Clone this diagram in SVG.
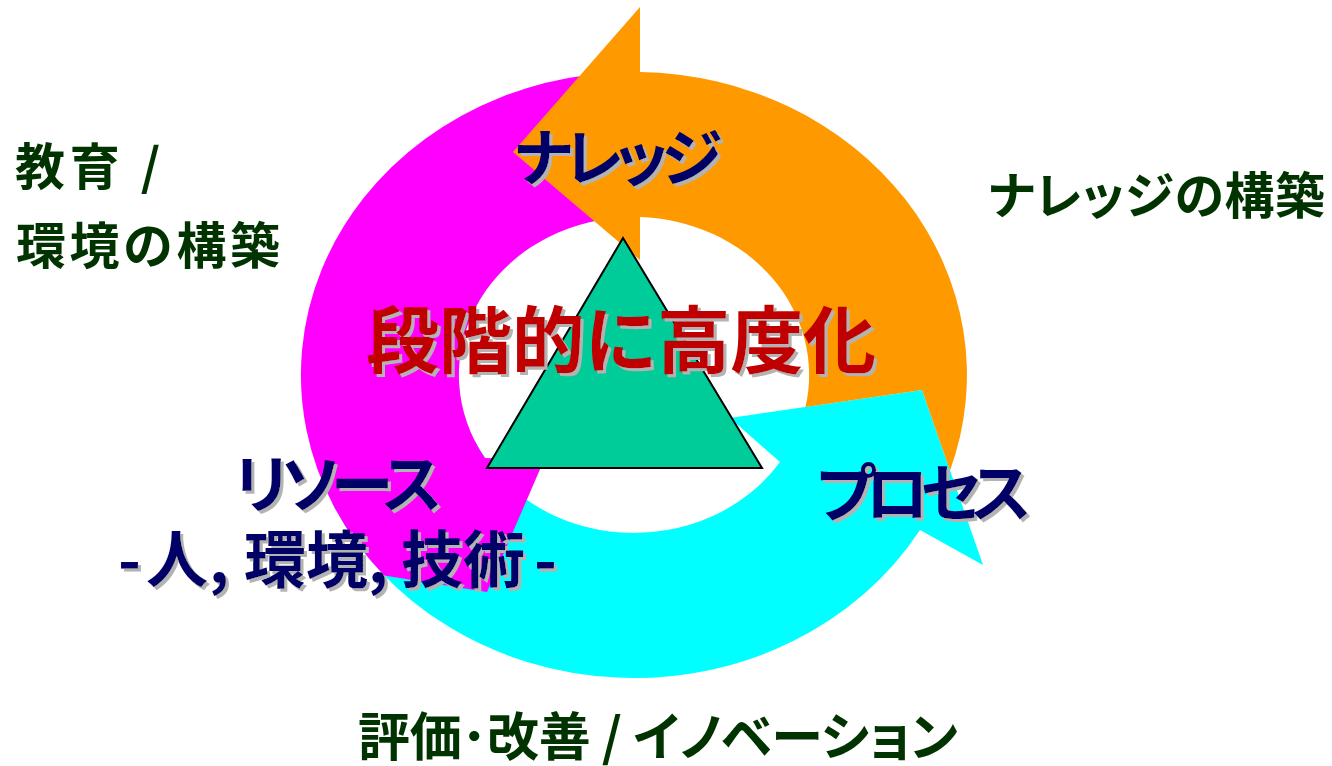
<svg xmlns="http://www.w3.org/2000/svg" width="1332" height="766" viewBox="0 0 1332 766">
  <style>
    .lbl { font-family: 'Noto Sans CJK JP', 'Noto Sans CJK SC', sans-serif; font-weight: 700; }
    .prop { font-feature-settings: "palt" 1; }
    .navy { fill: #000066; filter: url(#sh); }
    .red { fill: #c00000; filter: url(#sh); }
    .green { fill: #003300; }
    .arrow { stroke: none; }
  </style>
  <defs>
    <filter id="sh" x="-10%" y="-10%" width="130%" height="140%">
      <feDropShadow dx="3" dy="3" stdDeviation="0" flood-color="#b3b3b3" flood-opacity="1"/>
    </filter>
  </defs>
  <rect width="1332" height="766" fill="#ffffff"/>

  <g id="connectors">
    <path id="arrow-process" class="arrow" fill="#00ffff" d="M332.2,503.1 A333,303 0 0 0 920,530.1 L983,565 L922,390 L730,418 L780,462.1 A175,158 0 0 1 475.4,441.8 Z"/>
    <path id="arrow-resource" class="arrow" fill="#ff00ff" d="M587.6,74.9 A333,303 0 0 0 384.2,575.4 L487,592 L544,460 L485,458 A175,158 0 0 1 609.6,218.5 Z"/>
    <path id="arrow-knowledge" class="arrow" fill="#ff9900" d="M640,7 L640,72 A333,303 0 0 1 950,470.4 L922,390 L805.5,407 A175,158 0 0 0 640,217.1 L640,260 L513,152 Z"/>
  </g>

  <g id="node-pyramid">
    <polygon points="623,238 487,468 762,468" fill="#00cc99" stroke="#000000" stroke-width="2"/>
  </g>

  <g id="node-knowledge">
    <text class="lbl prop navy" x="514" y="181" font-size="62" textLength="208" lengthAdjust="spacing">ナレッジ</text>
  </g>
  <g id="node-process">
    <text class="lbl prop navy" x="816" y="516" font-size="63" textLength="215" lengthAdjust="spacing">プロセス</text>
  </g>
  <g id="node-resource">
    <text class="lbl prop navy" x="234" y="507" font-size="63" textLength="208" lengthAdjust="spacing">リソース</text>
    <text class="lbl navy" y="583" font-size="62"><tspan x="118">-</tspan><tspan x="146">人</tspan><tspan x="209">,</tspan><tspan x="244">環境</tspan><tspan x="368">,</tspan><tspan x="401">技術</tspan><tspan x="534">-</tspan></text>
  </g>
  <g id="node-center">
    <text class="lbl red" x="366" y="367" font-size="73" textLength="510" lengthAdjust="spacing">段階的に高度化</text>
  </g>

  <g id="note-education">
    <text class="lbl green" x="15" y="185" font-size="50" textLength="145" lengthAdjust="spacing">教育 /</text>
    <text class="lbl green" x="16" y="264" font-size="50" textLength="264" lengthAdjust="spacing">環境の構築</text>
  </g>
  <g id="note-knowledge">
    <text class="lbl prop green" x="988" y="214" font-size="50" textLength="337" lengthAdjust="spacing">ナレッジの構築</text>
  </g>
  <g id="note-innovation">
    <text class="lbl prop green" x="358" y="756" font-size="52" textLength="600" lengthAdjust="spacing">評価･改善 / イノベーション</text>
  </g>
</svg>
